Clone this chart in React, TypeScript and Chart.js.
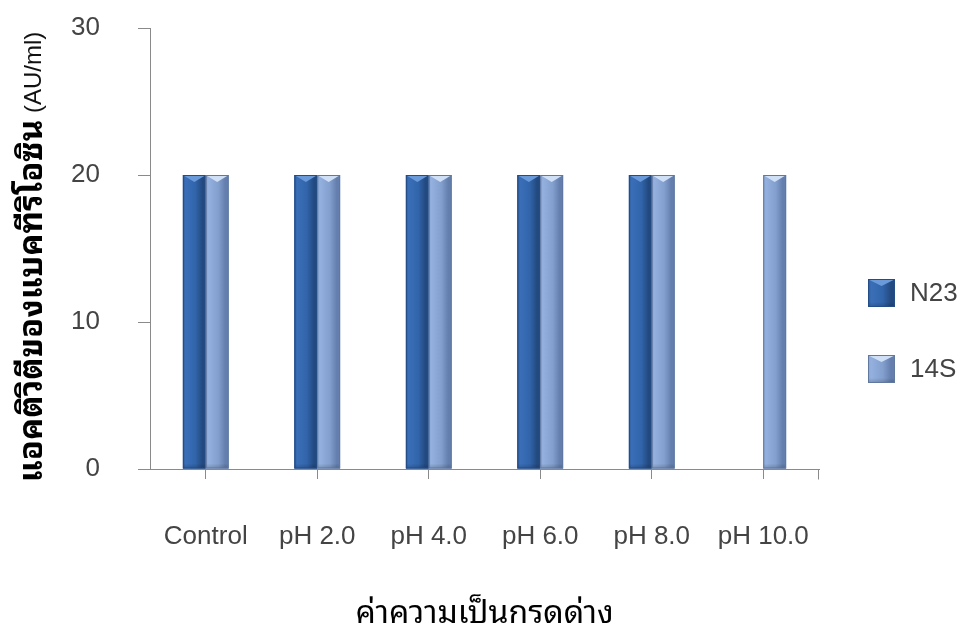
import React, { useEffect, useRef } from 'react';
import { Chart, registerables } from 'chart.js';

Chart.register(...registerables);

// ---- data ----
const categories = ['Control', 'pH 2.0', 'pH 4.0', 'pH 6.0', 'pH 8.0', 'pH 10.0'];
const seriesNames = ['N23', '14S'];
const n23Values = [20, 20, 20, 20, 20, 0];
const s14Values = [20, 20, 20, 20, 20, 20];
const yTicks = [0, 10, 20, 30];
const yTitleMain = 'แอคติวิตีของแบคทีริโอซิน';
const yTitleUnit = ' (AU/ml)';
const xTitle = 'ค่าความเป็นกรดด่าง';

// ---- styling ----
const W = 962;
const H = 630;
const FONT = '"Liberation Sans", Arial, "Noto Sans Thai Looped", "Noto Sans Thai", Tahoma, sans-serif';
const AXIS = '#8a8a8a';
const TEXT = '#444444';

type Palette = { base: string; edgeL: string; light: string; mid: string; edgeR: string; top: string; border: string };
const PALETTES: Palette[] = [
  { base: '#3164aa', edgeL: '#2c5a9a', light: '#3a6fb8', mid: '#3164aa', edgeR: '#234a80', top: '#6b9ada', border: '#244c86' },
  { base: '#86a3d2', edgeL: '#8aa7d6', light: '#93b0de', mid: '#839fcd', edgeR: '#647fae', top: '#cfe0f6', border: '#61789f' },
];

function drawBevel(ctx: CanvasRenderingContext2D, left: number, top: number, w: number, h: number, p: Palette) {
  const right = left + w;
  const g = ctx.createLinearGradient(left, 0, right, 0);
  g.addColorStop(0, p.edgeL);
  g.addColorStop(0.12, p.light);
  g.addColorStop(0.55, p.mid);
  g.addColorStop(0.85, p.edgeR);
  g.addColorStop(1, p.edgeR);
  ctx.fillStyle = g;
  ctx.fillRect(left, top, w, h);
  // darker foot
  const fg = ctx.createLinearGradient(0, top + h - 5, 0, top + h);
  fg.addColorStop(0, 'rgba(0,0,0,0)');
  fg.addColorStop(1, 'rgba(0,0,0,0.18)');
  ctx.fillStyle = fg;
  ctx.fillRect(left, top + h - 5, w, 5);
  // top facet
  const bev = Math.min(7, h / 2);
  ctx.beginPath();
  ctx.moveTo(left + 1.5, top + 1);
  ctx.lineTo(right - 1.5, top + 1);
  ctx.lineTo(left + w / 2, top + bev);
  ctx.closePath();
  ctx.fillStyle = p.top;
  ctx.fill();
  ctx.strokeStyle = p.border;
  ctx.lineWidth = 1;
  ctx.strokeRect(left + 0.5, top + 0.5, w - 1, h - 1);
}

const bevelPlugin = {
  id: 'bevelBars',
  afterDatasetsDraw(chart: any) {
    const ctx = chart.ctx as CanvasRenderingContext2D;
    chart.data.datasets.forEach((_ds: any, di: number) => {
      const meta = chart.getDatasetMeta(di);
      meta.data.forEach((el: any) => {
        const { x, y, base, width } = el.getProps(['x', 'y', 'base', 'width'], true);
        const h = base - y;
        if (h < 1) return;
        ctx.save();
        drawBevel(ctx, x - width / 2, y, width, h, PALETTES[di]);
        ctx.restore();
      });
    });
  },
};

// Vertical axis title: Thai text set larger than the Latin unit, as in the source document.
const yTitlePlugin = {
  id: 'yTitle',
  afterDraw(chart: any) {
    const ctx = chart.ctx as CanvasRenderingContext2D;
    const thaiFont = `bold 33px ${FONT}`;
    const unitFont = `24px ${FONT}`;
    ctx.save();
    ctx.font = thaiFont;
    const w1 = ctx.measureText(yTitleMain).width;
    ctx.font = unitFont;
    const w2 = ctx.measureText(yTitleUnit).width;
    const total = w1 + w2;
    ctx.translate(33, 257);
    ctx.rotate(-Math.PI / 2);
    ctx.textAlign = 'left';
    ctx.textBaseline = 'middle';
    ctx.fillStyle = '#000';
    ctx.font = thaiFont;
    ctx.fillText(yTitleMain, -total / 2, 0);
    ctx.font = unitFont;
    ctx.fillStyle = '#111';
    ctx.fillText(yTitleUnit, -total / 2 + w1, 1);
    ctx.restore();
  },
};

const LEGEND_X = 868;
const LEGEND_TOP = 279;
const LEGEND_STEP = 76;
const LEGEND_BOX = 27;

const sideLegendPlugin = {
  id: 'sideLegend',
  afterDraw(chart: any) {
    const ctx = chart.ctx as CanvasRenderingContext2D;
    // closing tick at the right end of the category axis
    const xs = chart.scales.x;
    ctx.save();
    ctx.strokeStyle = AXIS;
    ctx.lineWidth = 1;
    ctx.beginPath();
    ctx.moveTo(Math.round(xs.right) - 0.5, Math.round(xs.top) + 0.5);
    ctx.lineTo(Math.round(xs.right) - 0.5, Math.round(xs.top) + 10.5);
    ctx.stroke();

    chart.data.datasets.forEach((ds: any, i: number) => {
      const top = LEGEND_TOP + i * LEGEND_STEP;
      drawBevel(ctx, LEGEND_X, top, LEGEND_BOX, LEGEND_BOX + 1, PALETTES[i]);
      ctx.fillStyle = TEXT;
      ctx.font = `26px ${FONT}`;
      ctx.textAlign = 'left';
      ctx.textBaseline = 'middle';
      ctx.fillText(ds.label, LEGEND_X + 42, top + LEGEND_BOX / 2 + 1);
    });
    ctx.restore();
  },
};

export default function App() {
  const canvasRef = useRef<HTMLCanvasElement | null>(null);

  useEffect(() => {
    const canvas = canvasRef.current;
    if (!canvas) return;
    const chart = new Chart(canvas, {
      type: 'bar',
      data: {
        labels: categories,
        datasets: [
          { label: seriesNames[0], data: n23Values, backgroundColor: PALETTES[0].base, borderWidth: 0 },
          { label: seriesNames[1], data: s14Values, backgroundColor: PALETTES[1].base, borderWidth: 0 },
        ],
      },
      options: {
        responsive: false,
        animation: false,
        devicePixelRatio: 1,
        layout: { padding: { left: 0, top: 28, right: 143, bottom: 0 } },
        datasets: { bar: { categoryPercentage: 0.41, barPercentage: 1 } },
        plugins: {
          legend: { display: false },
          tooltip: { enabled: false },
        },
        scales: {
          x: {
            offset: true,
            grid: { offset: false, drawOnChartArea: false, drawTicks: true, tickLength: 10, color: AXIS },
            border: { display: true, color: AXIS, width: 1 },
            ticks: { color: TEXT, font: { family: FONT, size: 26 }, padding: 42, maxRotation: 0, autoSkip: false },
            title: {
              display: true,
              text: xTitle,
              color: '#000',
              font: { family: FONT, size: 32 },
              padding: { top: 0, bottom: -3 },
            },
            afterFit: (scale: any) => {
              scale.height = 161;
              scale.paddingLeft = 0;
              scale.paddingRight = 0;
            },
          },
          y: {
            min: yTicks[0],
            max: yTicks[yTicks.length - 1],
            grid: { drawOnChartArea: false, drawTicks: true, tickLength: 12, color: AXIS },
            border: { display: true, color: AXIS, width: 1 },
            ticks: { stepSize: yTicks[1] - yTicks[0], color: TEXT, font: { family: FONT, size: 26 }, padding: 38 },
            title: { display: false },
            afterFit: (scale: any) => {
              scale.width = 150;
              scale.paddingTop = 0;
              scale.paddingBottom = 0;
            },
          },
        },
      },
      plugins: [bevelPlugin, yTitlePlugin, sideLegendPlugin],
    } as any);
    return () => chart.destroy();
  }, []);

  return (
    <div style={{ position: 'absolute', left: 0, top: 0, width: W, height: H, background: '#fff' }}>
      <canvas ref={canvasRef} width={W} height={H} style={{ display: 'block', width: W, height: H }} />
    </div>
  );
}
